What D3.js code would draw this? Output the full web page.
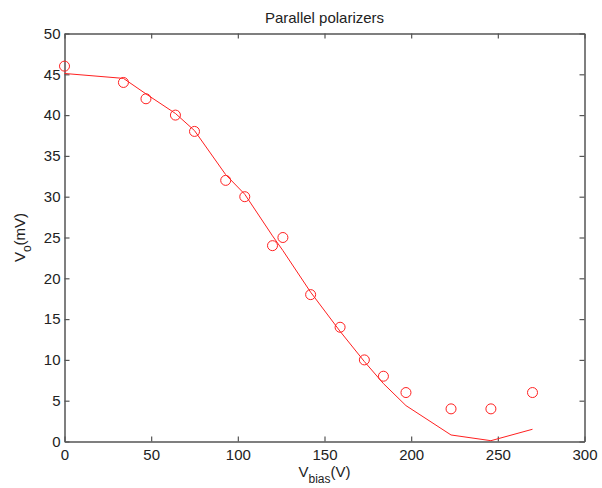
<!DOCTYPE html>
<html>
<head>
<meta charset="utf-8">
<script src="https://cdn.jsdelivr.net/npm/d3@7"></script>
<style>
  html, body { margin: 0; padding: 0; background: #fff; }
  svg { display: block; font-family: "Liberation Sans", Arial, sans-serif; }
</style>
</head>
<body>
<svg id="chart" width="602" height="488"></svg>
<script>
// Measured output voltage vs. bias voltage
const vBias = [0, 34, 47, 64, 75, 93, 104, 120, 126, 142, 159, 173, 184, 197, 223, 246, 270];
const vOut  = [46, 44, 42, 40, 38, 32, 30, 24, 25, 18, 14, 10, 8, 6, 4, 4, 6];
// Model curve evaluated at the same bias voltages
const vFit  = [45.1, 44.5, 42.6, 40.2, 38.1, 32.7, 30.3, 25.2, 23.4, 18.3, 13.5, 9.8, 7.1, 4.4, 0.8, 0.1, 1.5];

const xTicks = [0, 50, 100, 150, 200, 250, 300];
const yTicks = [0, 5, 10, 15, 20, 25, 30, 35, 40, 45, 50];

const margin = { left: 64.5, right: 17.5, top: 33.5, bottom: 46.5 };
const W = 602, H = 488;
const svg = d3.select("#chart");

const x = d3.scaleLinear().domain([0, 300]).range([margin.left, W - margin.right]);
const y = d3.scaleLinear().domain([0, 50]).range([H - margin.bottom, margin.top]);

const axisColor = "#555";
const textColor = "#222";
const red = "#ff2020";
const fontSize = "15px";

// Bottom and left axes with labels
const gx = svg.append("g").attr("transform", `translate(0,${y(0)})`)
  .call(d3.axisBottom(x).tickValues(xTicks).tickSizeInner(-5).tickSizeOuter(0).tickPadding(8));
const gy = svg.append("g").attr("transform", `translate(${x(0)},0)`)
  .call(d3.axisLeft(y).tickValues(yTicks).tickSizeInner(-5).tickSizeOuter(0).tickPadding(4));
// Mirror ticks on top and right
const gt = svg.append("g").attr("transform", `translate(0,${y(50)})`)
  .call(d3.axisTop(x).tickValues(xTicks).tickSizeInner(-5).tickSizeOuter(0).tickFormat(""));
const gr = svg.append("g").attr("transform", `translate(${x(300)},0)`)
  .call(d3.axisRight(y).tickValues(yTicks).tickSizeInner(-5).tickSizeOuter(0).tickFormat(""));

[gx, gy, gt, gr].forEach(g => {
  g.select(".domain").attr("stroke", axisColor).attr("stroke-width", 1.5);
  g.selectAll(".tick line").attr("stroke", axisColor).attr("stroke-width", 1.2);
  g.selectAll(".tick text").attr("fill", textColor)
    .style("font-size", fontSize).style("font-family", "Liberation Sans, Arial, sans-serif");
});

// Fitted curve
const line = d3.line().x((d, i) => x(vBias[i])).y(d => y(d));
svg.append("path")
  .datum(vFit)
  .attr("d", line)
  .attr("fill", "none")
  .attr("stroke", red)
  .attr("stroke-width", 1);

// Measured points
svg.append("g").selectAll("circle")
  .data(vOut)
  .join("circle")
  .attr("cx", (d, i) => x(vBias[i]))
  .attr("cy", d => y(d))
  .attr("r", 5)
  .attr("fill", "none")
  .attr("stroke", red)
  .attr("stroke-width", 1);

// Title
svg.append("text")
  .attr("x", (x(0) + x(300)) / 2)
  .attr("y", 22.5)
  .attr("text-anchor", "middle")
  .attr("fill", textColor)
  .style("font-size", fontSize)
  .text("Parallel polarizers");

// X-axis label: V_bias(V)
const xl = svg.append("text")
  .attr("x", (x(0) + x(300)) / 2)
  .attr("y", 477)
  .attr("text-anchor", "middle")
  .attr("fill", textColor)
  .style("font-size", fontSize);
xl.append("tspan").text("V");
xl.append("tspan").attr("dy", 6).style("font-size", "12px").text("bias");
xl.append("tspan").attr("dy", -6).text("(V)");

// Y-axis label: V_o(mV)
const yl = svg.append("text")
  .attr("transform", `translate(25,${(y(0) + y(50)) / 2}) rotate(-90)`)
  .attr("text-anchor", "middle")
  .attr("fill", textColor)
  .style("font-size", fontSize);
yl.append("tspan").text("V");
yl.append("tspan").attr("dy", 6).style("font-size", "12px").text("o");
yl.append("tspan").attr("dy", -6).text("(mV)");
</script>
</body>
</html>
